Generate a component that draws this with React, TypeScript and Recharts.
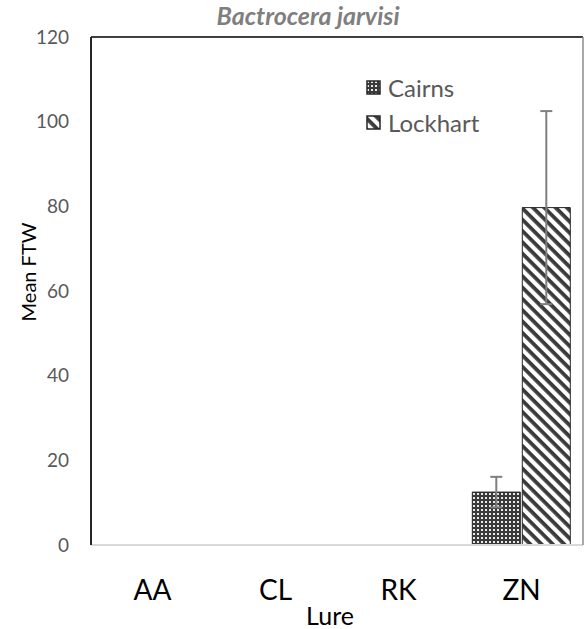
import { Bar, BarChart, ErrorBar, ReferenceLine, XAxis, YAxis } from "recharts";

const lures = ["AA", "CL", "RK", "ZN"];
const cairnsMean = [0, 0, 0, 12.5];
const cairnsErr = [null, null, null, 3.6];
const lockhartMean = [0, 0, 0, 79.7];
const lockhartErr = [null, null, null, 22.8];
const yTicks = [0, 20, 40, 60, 80, 100, 120];

const data = lures.map((lure, i) => ({
  lure,
  cairns: cairnsMean[i],
  cairnsErr: cairnsErr[i],
  lockhart: lockhartMean[i],
  lockhartErr: lockhartErr[i],
}));

const FONT = "Lato, 'Open Sans', sans-serif";

const legendItems = [
  { name: "Cairns", fill: "url(#dots)" },
  { name: "Lockhart", fill: "url(#stripes)" },
];

// legend sits inside the plot, top right
function LegendBox() {
  return (
    <div
      style={{
        position: "absolute",
        left: 366,
        top: 70,
        fontFamily: FONT,
        fontSize: 24,
        color: "#595959",
      }}
    >
      {legendItems.map((it) => (
        <div key={it.name} style={{ display: "flex", alignItems: "center", height: 35 }}>
          <svg width={15} height={15} style={{ marginRight: 7 }}>
            <rect x={1} y={1} width={13} height={13} fill={it.fill} stroke="#262626" strokeWidth={1.5} />
          </svg>
          <span>{it.name}</span>
        </div>
      ))}
    </div>
  );
}

export default function App() {
  return (
    <div style={{ position: "relative", width: 584, height: 629, background: "#fff" }}>
      <style>{"body{margin:0}"}</style>
      <div
        style={{
          position: "absolute",
          top: 0,
          left: 158,
          width: 300,
          textAlign: "center",
          fontFamily: FONT,
          fontSize: 25,
          fontWeight: "bold",
          fontStyle: "italic",
          color: "#7f7f7f",
          zIndex: 1,
        }}
      >
        Bactrocera jarvisi
      </div>
      <BarChart
        width={584}
        height={629}
        data={data}
        margin={{ top: 37, right: 0, bottom: 0, left: 0 }}
        barCategoryGap="10%"
        barGap={2}
      >
        <defs>
          <pattern id="dots" patternUnits="userSpaceOnUse" width={4} height={4}>
            <rect width={4} height={4} fill="#3a3a3a" />
            <rect x={1} y={1} width={2} height={2} fill="#e8e8e8" />
          </pattern>
          <pattern id="stripes" patternUnits="userSpaceOnUse" width={8} height={8} patternTransform="rotate(45)">
            <rect width={8} height={8} fill="#ffffff" />
            <rect width={8} height={3.8} fill="#3a3a3a" />
          </pattern>
        </defs>
        <XAxis
          dataKey="lure"
          height={84}
          axisLine={{ stroke: "#d9d9d9", strokeWidth: 2 }}
          tickLine={false}
          tickSize={0}
          tick={({ x, y, payload }: any) => (
            <text x={x} y={y + 53} textAnchor="middle" fontFamily={FONT} fontSize={28} fill="#000">
              {payload.value}
            </text>
          )}
          label={({ viewBox }: any) => (
            <text
              x={viewBox.x + viewBox.width / 2 - 7}
              y={viewBox.y + 80}
              textAnchor="middle"
              fontFamily={FONT}
              fontSize={25}
              fill="#000"
            >
              Lure
            </text>
          )}
        />
        <YAxis
          width={91}
          domain={[0, 120]}
          ticks={yTicks}
          axisLine={{ stroke: "#262626", strokeWidth: 2 }}
          tickLine={false}
          tickSize={0}
          tickMargin={22}
          tick={{ fontFamily: FONT, fontSize: 19, fill: "#595959" }}
          label={({ viewBox }: any) => {
            const cx = viewBox.x + 28;
            const cy = viewBox.y + viewBox.height / 2 - 19;
            return (
              <text
                x={cx}
                y={cy}
                transform={`rotate(-90 ${cx} ${cy})`}
                textAnchor="middle"
                dominantBaseline="central"
                fontFamily={FONT}
                fontSize={20}
                fill="#000"
              >
                Mean FTW
              </text>
            );
          }}
        />
        <YAxis
          yAxisId="frame"
          orientation="right"
          width={1}
          tick={false}
          tickLine={false}
          axisLine={{ stroke: "#8c8c8c", strokeWidth: 1.5 }}
        />
        <ReferenceLine y={120} stroke="#404040" strokeWidth={2} />
        <Bar dataKey="cairns" name="Cairns" fill="url(#dots)" stroke="#262626" strokeWidth={1} isAnimationActive={false}>
          <ErrorBar dataKey="cairnsErr" width={6} stroke="#7f7f7f" strokeWidth={2} direction="y" />
        </Bar>
        <Bar dataKey="lockhart" name="Lockhart" fill="url(#stripes)" stroke="#262626" strokeWidth={1} isAnimationActive={false}>
          <ErrorBar dataKey="lockhartErr" width={6} stroke="#7f7f7f" strokeWidth={2} direction="y" />
        </Bar>
      </BarChart>
      <LegendBox />
    </div>
  );
}
